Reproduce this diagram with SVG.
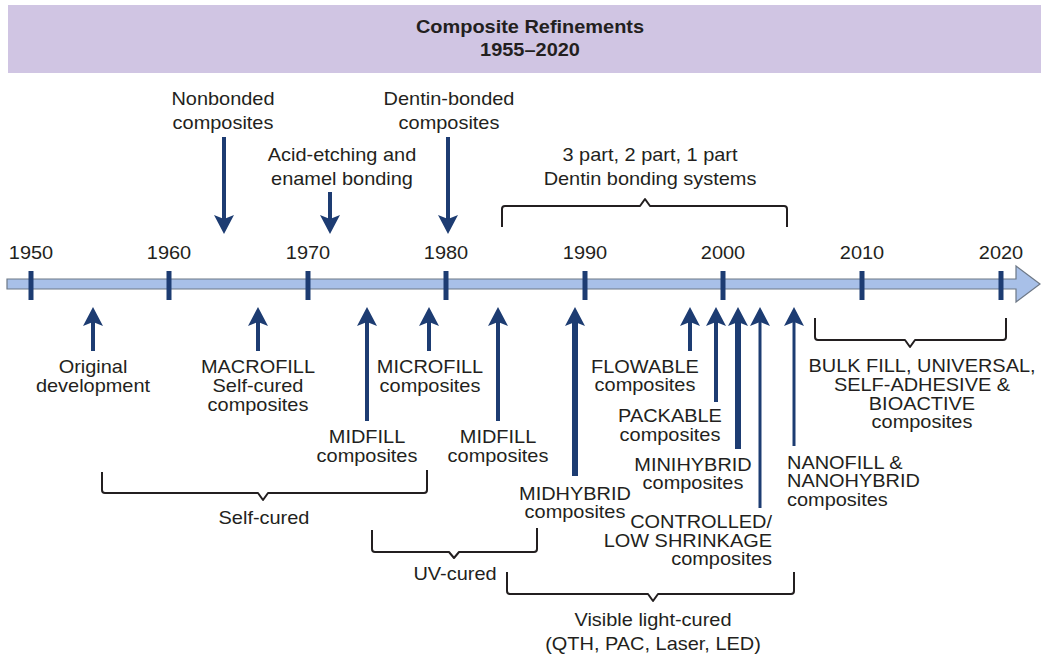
<svg xmlns="http://www.w3.org/2000/svg" width="1041" height="658" viewBox="0 0 1041 658">
<style>
text{font-family:"Liberation Sans",Arial,sans-serif;font-size:17.5px;fill:#231f20;text-anchor:middle}
.b{font-weight:bold}
.l{text-anchor:start}
.r{text-anchor:end}
.arr{stroke:#1d3c72;fill:none}
.br{stroke:#231f20;stroke-width:2;fill:none;stroke-linejoin:round}
.tick{stroke:#1d3c72;stroke-width:5}
</style>
<defs>
<marker id="ah" viewBox="0 0 20 20" refX="4" refY="10" markerWidth="20" markerHeight="20" markerUnits="userSpaceOnUse" orient="auto">
<path d="M0,0 L19,10 L0,20 L4,10 Z" fill="#1d3c72"/>
</marker>
</defs>
<rect x="8" y="5" width="1033" height="68" fill="#d0c5e3"/>
<g id="title" transform="translate(530 0) scale(1.14 1)">
<text class="b" x="0" y="33">Composite Refinements</text>
<text class="b" x="0" y="56">1955–2020</text>
</g>
<g id="axis">
<path d="M7,279 H1016 V266 L1040,284 L1016,302 V289 H7 Z" fill="#a8c0e8" stroke="#6d7886" stroke-width="1.2"/>
<line class="tick" x1="31" y1="271" x2="31" y2="300"/>
<line class="tick" x1="169" y1="271" x2="169" y2="300"/>
<line class="tick" x1="308" y1="271" x2="308" y2="300"/>
<line class="tick" x1="446" y1="271" x2="446" y2="300"/>
<line class="tick" x1="585" y1="271" x2="585" y2="300"/>
<line class="tick" x1="723" y1="271" x2="723" y2="300"/>
<line class="tick" x1="862" y1="271" x2="862" y2="300"/>
<line class="tick" x1="1001" y1="271" x2="1001" y2="300"/>
</g>
<g id="years">
<g transform="translate(31 0) scale(1.14 1)"><text x="0" y="259">1950</text></g>
<g transform="translate(169 0) scale(1.14 1)"><text x="0" y="259">1960</text></g>
<g transform="translate(308 0) scale(1.14 1)"><text x="0" y="259">1970</text></g>
<g transform="translate(446 0) scale(1.14 1)"><text x="0" y="259">1980</text></g>
<g transform="translate(585 0) scale(1.14 1)"><text x="0" y="259">1990</text></g>
<g transform="translate(723 0) scale(1.14 1)"><text x="0" y="259">2000</text></g>
<g transform="translate(862 0) scale(1.14 1)"><text x="0" y="259">2010</text></g>
<g transform="translate(1001 0) scale(1.14 1)"><text x="0" y="259">2020</text></g>
</g>
<g id="nonbonded" transform="translate(223 0) scale(1.14 1)"><text x="0" y="105">Nonbonded</text><text x="0" y="129">composites</text></g>
<g id="acid-etching" transform="translate(342 0) scale(1.14 1)"><text x="0" y="161">Acid-etching and</text><text x="0" y="185">enamel bonding</text></g>
<g id="dentin-bonded" transform="translate(449 0) scale(1.14 1)"><text x="0" y="105">Dentin-bonded</text><text x="0" y="129">composites</text></g>
<g id="dentin-systems" transform="translate(650 0) scale(1.14 1)"><text x="0" y="161">3 part, 2 part, 1 part</text><text x="0" y="185">Dentin bonding systems</text></g>
<g id="original" transform="translate(93 0) scale(1.14 1)"><text x="0" y="373">Original</text><text x="0" y="392">development</text></g>
<g id="macrofill" transform="translate(258 0) scale(1.14 1)"><text x="0" y="373">MACROFILL</text><text x="0" y="392">Self-cured</text><text x="0" y="411">composites</text></g>
<g id="microfill" transform="translate(430 0) scale(1.14 1)"><text x="0" y="373">MICROFILL</text><text x="0" y="392">composites</text></g>
<g id="midfill1" transform="translate(367 0) scale(1.14 1)"><text x="0" y="443">MIDFILL</text><text x="0" y="462">composites</text></g>
<g id="midfill2" transform="translate(498 0) scale(1.14 1)"><text x="0" y="443">MIDFILL</text><text x="0" y="462">composites</text></g>
<g id="midhybrid" transform="translate(575 0) scale(1.14 1)"><text x="0" y="500">MIDHYBRID</text><text x="0" y="518">composites</text></g>
<g id="flowable" transform="translate(645 0) scale(1.14 1)"><text x="0" y="373">FLOWABLE</text><text x="0" y="391">composites</text></g>
<g id="packable" transform="translate(670 0) scale(1.14 1)"><text x="0" y="422">PACKABLE</text><text x="0" y="441">composites</text></g>
<g id="minihybrid" transform="translate(693 0) scale(1.14 1)"><text x="0" y="471">MINIHYBRID</text><text x="0" y="489">composites</text></g>
<g id="controlled" transform="translate(772 0) scale(1.14 1)"><text class="r" x="0" y="528">CONTROLLED/</text><text class="r" x="0" y="547">LOW SHRINKAGE</text><text class="r" x="0" y="565">composites</text></g>
<g id="nanofill" transform="translate(787 0) scale(1.14 1)"><text class="l" x="0" y="469">NANOFILL &amp;</text><text class="l" x="0" y="487">NANOHYBRID</text><text class="l" x="0" y="506">composites</text></g>
<g id="bulkfill" transform="translate(922 0) scale(1.14 1)"><text x="0" y="372">BULK FILL, UNIVERSAL,</text><text x="0" y="391">SELF-ADHESIVE &amp;</text><text x="0" y="410">BIOACTIVE</text><text x="0" y="428">composites</text></g>
<g id="self-cured" transform="translate(264 0) scale(1.14 1)"><text x="0" y="524">Self-cured</text></g>
<g id="uv-cured" transform="translate(455 0) scale(1.14 1)"><text x="0" y="580">UV-cured</text></g>
<g id="visible-light" transform="translate(653 0) scale(1.14 1)"><text x="0" y="626">Visible light-cured</text><text x="0" y="650">(QTH, PAC, Laser, LED)</text></g>
<g id="connectors">
<line class="arr" stroke-width="4" x1="224" y1="137" x2="224" y2="219" marker-end="url(#ah)"/>
<line class="arr" stroke-width="4" x1="330" y1="192" x2="330" y2="219" marker-end="url(#ah)"/>
<line class="arr" stroke-width="4" x1="448" y1="137" x2="448" y2="219" marker-end="url(#ah)"/>
<line class="arr" stroke-width="4" x1="93" y1="351" x2="93" y2="322" marker-end="url(#ah)"/>
<line class="arr" stroke-width="4" x1="258" y1="351" x2="258" y2="322" marker-end="url(#ah)"/>
<line class="arr" stroke-width="4" x1="367" y1="421" x2="367" y2="322" marker-end="url(#ah)"/>
<line class="arr" stroke-width="4" x1="429" y1="351" x2="429" y2="322" marker-end="url(#ah)"/>
<line class="arr" stroke-width="4" x1="498" y1="421" x2="498" y2="322" marker-end="url(#ah)"/>
<line class="arr" stroke-width="6" x1="575" y1="476" x2="575" y2="322" marker-end="url(#ah)"/>
<line class="arr" stroke-width="4" x1="690" y1="351" x2="690" y2="322" marker-end="url(#ah)"/>
<line class="arr" stroke-width="4" x1="716" y1="402" x2="716" y2="322" marker-end="url(#ah)"/>
<line class="arr" stroke-width="6" x1="738" y1="449" x2="738" y2="322" marker-end="url(#ah)"/>
<line class="arr" stroke-width="3" x1="760" y1="508" x2="760" y2="322" marker-end="url(#ah)"/>
<line class="arr" stroke-width="3" x1="794" y1="446" x2="794" y2="322" marker-end="url(#ah)"/>
<path class="br" d="M502,227 V209 Q502,206 505,206 H640 L645,199 L650,206 H784 Q787,206 787,209 V227"/>
<path class="br" d="M102,472 V490 Q102,493 105,493 H258 L263,500 L268,493 H424 Q427,493 427,490 V470"/>
<path class="br" d="M372,530 V549 Q372,552 375,552 H449 L454,558 L459,552 H534 Q537,552 537,549 V528"/>
<path class="br" d="M507,572 V591 Q507,594 510,594 H648 L653,601 L658,594 H791 Q794,594 794,591 V572"/>
<path class="br" d="M815,318 V337 Q815,340 818,340 H905 L910,347 L915,340 H1003 Q1006,340 1006,337 V318"/>
</g>
</svg>
